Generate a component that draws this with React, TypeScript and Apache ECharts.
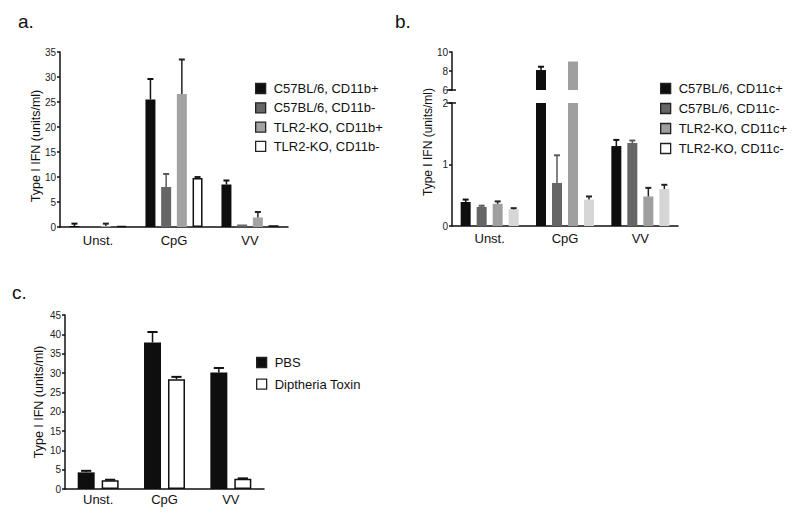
import { useEffect, useRef } from "react";
import * as echarts from "echarts";

// ---------- data ----------
const categories = ["Unst.", "CpG", "VV"];

// Panel a
const legendA = ["C57BL/6, CD11b+", "C57BL/6, CD11b-", "TLR2-KO, CD11b+", "TLR2-KO, CD11b-"];
const aB6Pos = [0.2, 25.5, 8.5];
const aB6PosTop = [0.67, 29.6, 9.3];
const aB6Neg = [0.03, 8.0, 0.5];
const aB6NegTop = [null, 10.6, null];
const aKoPos = [0.2, 26.6, 1.9];
const aKoPosTop = [0.67, 33.5, 3.0];
const aKoNeg = [0.2, 9.8, 0.35];
const aKoNegTop = [null, 10.0, null];
const aTicks = { min: 0, max: 35, interval: 5 };

// Panel b (broken axis)
const legendB = ["C57BL/6, CD11c+", "C57BL/6, CD11c-", "TLR2-KO, CD11c+", "TLR2-KO, CD11c-"];
const bB6Pos = [0.39, 8.1, 1.3];
const bB6PosTop = [0.43, 8.45, 1.4];
const bB6Neg = [0.31, 0.7, 1.35];
const bB6NegTop = [0.33, 1.15, 1.39];
const bKoPos = [0.36, 9.0, 0.48];
const bKoPosTop = [0.4, null, 0.62];
const bKoNeg = [0.27, 0.43, 0.6];
const bKoNegTop = [0.29, 0.48, 0.67];
const bLowTicks = { min: 0, max: 2, interval: 1 };
const bHighTicks = { min: 6, max: 10, interval: 2 };

// Panel c
const legendC = ["PBS", "Diptheria Toxin"];
const cPBS = [4.3, 37.9, 30.1];
const cPBSTop = [4.7, 40.6, 31.3];
const cDT = [2.25, 28.4, 2.65];
const cDTTop = [2.4, 29.0, 2.75];
const cTicks = { min: 0, max: 45, interval: 5 };

const yTitle = "Type I IFN (units/ml)";

// ---------- styles ----------
const FONT = "'Liberation Sans', Arial, Helvetica, sans-serif";
const NARROW = "'Liberation Sans Narrow', 'Arial Narrow', 'Liberation Sans', Arial, sans-serif";
const INK = "#111111";
const COLORS = ["#0e0e0e", "#666666", "#a3a3a3", "#ffffff"];
const ERRCOL = ["#111111", "#5a5a5a", "#222222", "#222222"];

type Num = number | null;

function barSeries(name: string, data: (number | string)[], ax: number, color: string, w: number, gap: number, border = false) {
  return {
    type: "bar",
    name,
    xAxisIndex: ax,
    yAxisIndex: ax,
    data,
    barWidth: w,
    barGap: gap,
    clip: true,
    itemStyle: border
      ? { color, borderColor: INK, borderWidth: 1.5 }
      : { color },
    emphasis: { disabled: true },
  };
}

function errSeries(
  id: string,
  vals: number[],
  tops: Num[],
  ax: number,
  idx: number,
  n: number,
  w: number,
  gap: number,
  color: string,
  keep: (v: number, t: number) => boolean
) {
  const step = w * (1 + gap);
  const off = (idx - (n - 1) / 2) * step;
  const cap = Math.max(6, w * 0.6);
  const data: number[][] = [];
  vals.forEach((v, i) => {
    const t = tops[i];
    if (t != null && keep(v, t)) data.push([i, v, t]);
  });
  return {
    type: "custom",
    name: id,
    xAxisIndex: ax,
    yAxisIndex: ax,
    clip: true,
    z: 5,
    data,
    encode: { x: 0, y: [1, 2] },
    renderItem: (_p: any, api: any) => {
      const i = api.value(0);
      const p0 = api.coord([i, api.value(1)]);
      const p1 = api.coord([i, api.value(2)]);
      const x = p0[0] + off;
      return {
        type: "group",
        children: [
          { type: "line", shape: { x1: x, y1: p0[1], x2: x, y2: p1[1] }, style: { stroke: color, lineWidth: 1.5 } },
          { type: "line", shape: { x1: x - cap / 2, y1: p1[1], x2: x + cap / 2, y2: p1[1] }, style: { stroke: color, lineWidth: 2 } },
        ],
      };
    },
  };
}

function catAxis(gridIndex: number, show: boolean, margin: number) {
  return {
    type: "category",
    gridIndex,
    data: categories,
    show,
    axisLine: { lineStyle: { color: INK, width: 1.5 } },
    axisTick: { alignWithLabel: true, length: 4, lineStyle: { color: INK, width: 1.5 } },
    axisLabel: { fontFamily: FONT, fontSize: 13, color: INK, margin },
    splitLine: { show: false },
  };
}

function valAxis(gridIndex: number, t: { min: number; max: number; interval: number }) {
  return {
    type: "value",
    gridIndex,
    min: t.min,
    max: t.max,
    interval: t.interval,
    axisLine: { show: true, lineStyle: { color: INK, width: 1.5 } },
    axisTick: { show: true, length: 3, lineStyle: { color: INK, width: 1.5 } },
    axisLabel: { fontFamily: NARROW, fontSize: 10, color: "#222", margin: 4 },
    splitLine: { show: false },
  };
}

function legend(names: string[], left: number, top: number, gap: number, overrides: Record<string, any> = {}) {
  return {
    orient: "vertical",
    left,
    top,
    itemWidth: 10,
    itemHeight: 10,
    itemGap: gap,
    icon: "rect",
    selectedMode: false,
    data: names.map((n) => (overrides[n] ? { name: n, itemStyle: overrides[n] } : { name: n })),
    itemStyle: { borderColor: "#222", borderWidth: 1.3 },
    textStyle: { fontFamily: FONT, fontSize: 13, color: INK, lineHeight: 13, padding: [0, 0, 0, 3] },
  };
}

export default function App() {
  const ref = useRef<HTMLDivElement>(null);

  useEffect(() => {
    document.body.style.margin = "0";
    if (!ref.current) return;
    const chart = echarts.init(ref.current, undefined, { renderer: "svg" });

    const series: any[] = [];
    // Panel a
    const aVals = [aB6Pos, aB6Neg, aKoPos, aKoNeg];
    const aTops = [aB6PosTop, aB6NegTop, aKoPosTop, aKoNegTop];
    aVals.forEach((v, i) => {
      series.push(barSeries(legendA[i], v, 0, COLORS[i], 10, 0.57, i === 3));
      series.push(errSeries("errA" + i, v, aTops[i], 0, i, 4, 10, 0.57, ERRCOL[i], () => true));
    });
    // Panel b
    const bVals = [bB6Pos, bB6Neg, bKoPos, bKoNeg];
    const bTops = [bB6PosTop, bB6NegTop, bKoPosTop, bKoNegTop];
    const bCols = [COLORS[0], COLORS[1], "#9f9f9f", "#d6d6d6"];
    bVals.forEach((v, i) => {
      // upper segment (6-10)
      series.push(barSeries(legendB[i], v.map((x) => (x >= bHighTicks.min ? x : "-")), 1, bCols[i], 10, 0.6));
      series.push(errSeries("errBh" + i, v, bTops[i], 1, i, 4, 10, 0.6, ERRCOL[i], (x) => x >= bHighTicks.min));
      // lower segment (0-2)
      series.push(barSeries(legendB[i], v, 2, bCols[i], 10, 0.6));
      series.push(errSeries("errBl" + i, v, bTops[i], 2, i, 4, 10, 0.6, ERRCOL[i], (_x, t) => t <= bLowTicks.max));
    });
    // Panel c
    const cVals = [cPBS, cDT];
    const cTops = [cPBSTop, cDTTop];
    const cCols = [COLORS[0], COLORS[3]];
    cVals.forEach((v, i) => {
      series.push(barSeries(legendC[i], v, 3, cCols[i], 17, 0.41, i === 1));
      series.push(errSeries("errC" + i, v, cTops[i], 3, i, 2, 17, 0.41, ERRCOL[0], () => true));
    });

    const gridB = { left: 452, width: 226 };

    const option: any = {
      animation: false,
      backgroundColor: "#ffffff",
      textStyle: { fontFamily: FONT },
      grid: [
        { left: 60, top: 52, width: 228, height: 175 },
        { left: gridB.left, top: 52, width: gridB.width, height: 38 },
        { left: gridB.left, top: 103, width: gridB.width, height: 123 },
        { left: 65, top: 315, width: 199, height: 174 },
      ],
      xAxis: [catAxis(0, true, 7), catAxis(1, false, 6), catAxis(2, true, 6), catAxis(3, true, 4)],
      yAxis: [valAxis(0, aTicks), valAxis(1, bHighTicks), valAxis(2, bLowTicks), valAxis(3, cTicks)],
      legend: [
        legend(legendA, 250, 77, 6.3),
        legend(legendB, 655, 77, 7, { [legendB[3]]: { color: "#ffffff" } }),
        legend(legendC, 251, 351, 8.7),
      ],
      series,
    };
    chart.setOption(option);

    // decorative break marks on the broken axis of panel b
    const yHi = chart.convertToPixel({ yAxisIndex: 1 }, bHighTicks.min) as number;
    const yLo = chart.convertToPixel({ yAxisIndex: 2 }, bLowTicks.max) as number;
    const ax = gridB.left;

    const txt = (text: string, x: number, y: number, size: number, extra: any = {}) => ({
      type: "text",
      x,
      y,
      ...extra,
      style: { text, fontFamily: FONT, fontSize: size, fill: INK, ...(extra.style || {}) },
    });

    chart.setOption({
      graphic: [
        txt("a.", 18, 31, 19, { style: { textVerticalAlign: "bottom" } }),
        txt("b.", 395, 31, 19, { style: { textVerticalAlign: "bottom" } }),
        txt("c.", 12, 302, 19, { style: { textVerticalAlign: "bottom" } }),
        { type: "text", x: 36, y: 146, rotation: Math.PI / 2, style: { text: yTitle, fontFamily: FONT, fontSize: 12.5, fill: INK, textAlign: "center", textVerticalAlign: "middle" } },
        { type: "text", x: 428, y: 142, rotation: Math.PI / 2, style: { text: yTitle, fontFamily: FONT, fontSize: 12, fill: INK, textAlign: "center", textVerticalAlign: "middle" } },
        { type: "text", x: 39, y: 402, rotation: Math.PI / 2, style: { text: yTitle, fontFamily: FONT, fontSize: 12.5, fill: INK, textAlign: "center", textVerticalAlign: "middle" } },
        { type: "line", shape: { x1: ax - 5, y1: yHi, x2: ax + 4, y2: yHi }, style: { stroke: INK, lineWidth: 1.5 } },
        { type: "line", shape: { x1: ax - 5, y1: yLo, x2: ax + 4, y2: yLo }, style: { stroke: INK, lineWidth: 1.5 } },
      ],
    });

    return () => chart.dispose();
  }, []);

  return <div ref={ref} style={{ width: 800, height: 519 }} />;
}
